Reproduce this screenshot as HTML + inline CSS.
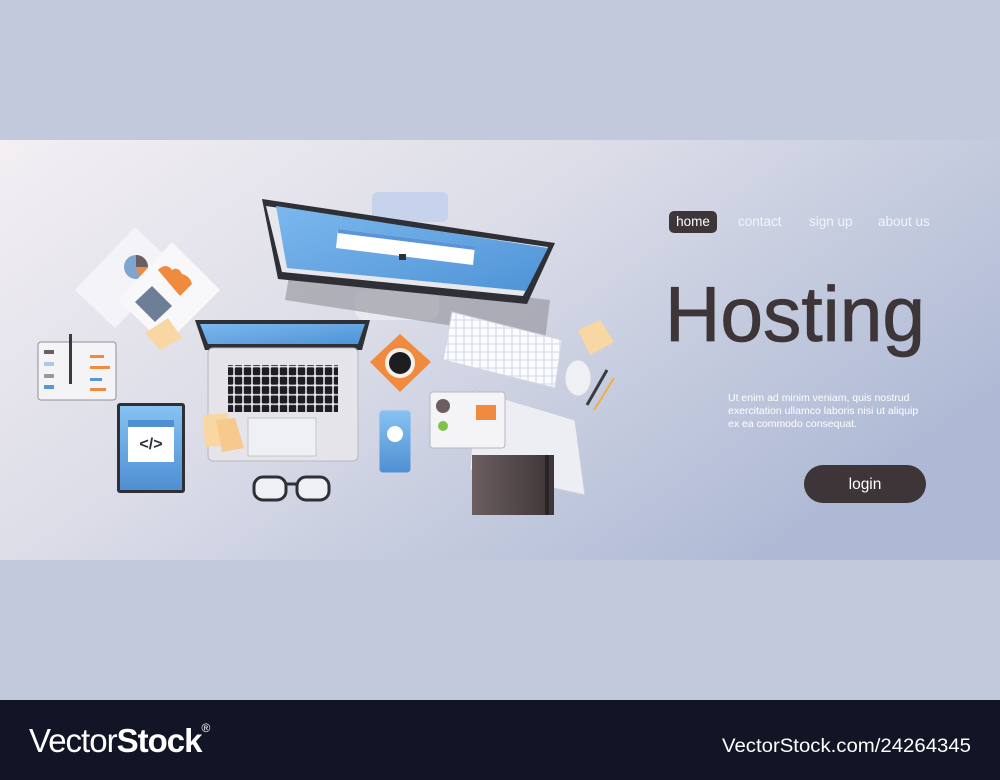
<!DOCTYPE html>
<html><head><meta charset="utf-8"><style>
html,body{margin:0;padding:0;width:1000px;height:780px;overflow:hidden;background:#c2c9dc;font-family:"Liberation Sans",sans-serif}
</style></head><body>
<svg width="1000" height="780" viewBox="0 0 1000 780" xmlns="http://www.w3.org/2000/svg" font-family="Liberation Sans, sans-serif">
<defs>
<linearGradient id="bg" x1="0" y1="0" x2="1" y2="0.6">
<stop offset="0" stop-color="#f3eff3"/><stop offset="0.45" stop-color="#dcdde8"/><stop offset="1" stop-color="#aebad5"/>
</linearGradient>
<linearGradient id="scr" x1="0" y1="0" x2="1" y2="1"><stop offset="0" stop-color="#7cb8ee"/><stop offset="1" stop-color="#4f93d6"/></linearGradient>
<linearGradient id="tab" x1="0" y1="0" x2="0" y2="1"><stop offset="0" stop-color="#86c2f2"/><stop offset="1" stop-color="#4f8fd2"/></linearGradient>
<linearGradient id="fold" x1="0" y1="0" x2="1" y2="0"><stop offset="0" stop-color="#6b5e60"/><stop offset="1" stop-color="#3e3537"/></linearGradient>
<pattern id="keys" width="9" height="9.4" patternUnits="userSpaceOnUse"><rect x="0" y="0" width="9" height="9.4" fill="#e4e4ea"/><rect x="0.8" y="0.8" width="7.4" height="7.8" rx="1" fill="#1d1d22"/></pattern>
<pattern id="wkeys" width="8" height="8" patternUnits="userSpaceOnUse"><rect width="8" height="8" fill="#dfe3ee"/><rect x="0.8" y="0.8" width="6.4" height="6.4" rx="1" fill="#fbfcff"/></pattern>
</defs>
<rect x="0" y="0" width="1000" height="780" fill="#c2c9dc"/>
<rect x="0" y="140" width="1000" height="420" fill="url(#bg)"/>

<rect x="372" y="192" width="76" height="30" rx="6" fill="#c7d3ec"/>
<rect x="355" y="290" width="84" height="30" rx="10" fill="#e9eaf0"/>
<polygon points="290,270 550,300 545,340 285,300" fill="#8f9098" opacity="0.6"/>
<polygon points="262,199 555,243 527,304 278,279" fill="#2e3036"/>
<polygon points="266,206 548,247 523,296 282,272" fill="#e6e8ee"/>
<polygon points="276,206 548,248 526,291 287,268" fill="url(#scr)"/>
<polygon points="338,229 475,246 473,265 336,248" fill="#fff"/>
<polygon points="338,229 475,246 475,250 338,233" fill="#5a95d6"/>
<rect x="399" y="254" width="7" height="6" fill="#2e3036"/>

<polygon points="75,290 135,227 175,265 115,328" fill="#f4f4f8"/>
<circle cx="136" cy="267" r="12" fill="#7fa4cf"/>
<path d="M136,267 L136,255 A12,12 0 0 1 148,267 Z" fill="#6b5e60"/>
<path d="M136,267 L148,267 A12,12 0 0 1 140,278 Z" fill="#f08a3e"/>
<polygon points="118,300 172,242 220,290 165,345" fill="#f8f8fb"/>
<path d="M158,270 q8,-8 14,0 q6,-4 10,4 q8,2 10,10 l-12,12 z" fill="#f08a3e"/>
<polygon points="135,302 152,286 172,306 155,322" fill="#6c7f97"/>
<polygon points="145,333 168,318 182,338 160,350" fill="#f9d7a3"/>

<rect x="38" y="342" width="78" height="58" rx="3" fill="#f4f4f6" stroke="#8e8e96"/>
<rect x="44" y="350" width="10" height="4" fill="#6b5e60"/><rect x="44" y="362" width="10" height="4" fill="#a9c9ee"/>
<rect x="44" y="374" width="10" height="4" fill="#9a9a9a"/><rect x="44" y="385" width="10" height="4" fill="#5a95d6"/>
<rect x="69" y="334" width="3" height="50" fill="#3a3a40"/>
<rect x="90" y="355" width="14" height="3" fill="#f08a3e"/><rect x="90" y="366" width="20" height="3" fill="#f08a3e"/><rect x="90" y="378" width="12" height="3" fill="#5a95d6"/><rect x="90" y="388" width="16" height="3" fill="#f08a3e"/>

<rect x="117" y="403" width="68" height="90" rx="3" fill="#2e3036"/>
<rect x="120" y="406" width="62" height="84" fill="url(#tab)"/>
<rect x="128" y="420" width="46" height="42" fill="#fff"/>
<rect x="128" y="420" width="46" height="7" fill="#4f8fd2"/>
<text x="151" y="449" font-size="16" text-anchor="middle" font-weight="bold" fill="#2e3036">&lt;/&gt;</text>

<polygon points="195,320 370,320 362,350 205,350" fill="#2e3036"/>
<polygon points="200,324 365,324 358,344 208,344" fill="url(#scr)"/>
<rect x="208" y="348" width="150" height="113" rx="5" fill="#e4e4ea" stroke="#b7b8c0"/>
<rect x="228" y="365" width="110" height="47" fill="url(#keys)"/>
<rect x="248" y="418" width="68" height="38" fill="#eef0f4" stroke="#c5c6cc"/>
<polygon points="203,415 228,413 230,445 205,447" fill="#f9d7a3"/>
<polygon points="216,420 235,418 244,448 222,452" fill="#f6c98d"/>

<polygon points="400,334 431,362 400,392 370,362" fill="#f08a3e"/>
<circle cx="400" cy="363" r="15" fill="#f5f0e8"/><circle cx="400" cy="363" r="11" fill="#1d1d22"/>

<polygon points="452,312 562,340 555,388 443,360" fill="url(#wkeys)" stroke="#d0d4e0"/>
<polygon points="578,330 600,320 614,342 590,355" fill="#f9d7a3"/>
<ellipse cx="578" cy="378" rx="13" ry="18" fill="#eef0f4" stroke="#cfd2da"/>
<line x1="587" y1="405" x2="607" y2="370" stroke="#3a3a40" stroke-width="3"/>
<line x1="594" y1="410" x2="614" y2="378" stroke="#f0b040" stroke-width="2"/>

<rect x="379" y="410" width="32" height="63" rx="4" fill="url(#tab)" stroke="#c6d3ea"/>
<circle cx="395" cy="434" r="8" fill="#fff"/>

<rect x="254" y="477" width="32" height="23" rx="9" fill="#eef0f4" stroke="#2e3036" stroke-width="3"/>
<rect x="297" y="477" width="32" height="23" rx="9" fill="#eef0f4" stroke="#2e3036" stroke-width="3"/>
<line x1="286" y1="484" x2="297" y2="484" stroke="#2e3036" stroke-width="3"/>

<polygon points="475,390 575,420 585,495 470,470" fill="#eceef3" stroke="#c9ccd6"/>
<rect x="472" y="455" width="82" height="60" fill="url(#fold)"/>
<rect x="545" y="455" width="4" height="60" fill="#2a2426"/>
<rect x="430" y="392" width="75" height="56" rx="3" fill="#f4f4f7" stroke="#b6b7be"/>
<circle cx="443" cy="406" r="7" fill="#6b5e60"/><circle cx="443" cy="426" r="5" fill="#7fc24a"/>
<rect x="476" y="405" width="20" height="15" fill="#f08a3e"/>

<rect x="669" y="211" width="48" height="22" rx="5" fill="#3d3537"/>
<text x="693" y="226" font-size="13.5" fill="#fff" text-anchor="middle">home</text>
<text x="738" y="226" font-size="13.5" fill="#f3f4f8">contact</text>
<text x="809" y="226" font-size="13.5" fill="#f3f4f8">sign up</text>
<text x="878" y="226" font-size="13.5" fill="#f3f4f8">about us</text>
<text x="665" y="341" font-size="78" fill="#3d3537" stroke="#3d3537" stroke-width="0.8" textLength="260" lengthAdjust="spacingAndGlyphs">Hosting</text>
<text font-size="10.5" fill="#ffffff">
<tspan x="728" y="401">Ut enim ad minim veniam, quis nostrud</tspan>
<tspan x="728" y="414">exercitation ullamco laboris nisi ut aliquip</tspan>
<tspan x="728" y="427">ex ea commodo consequat.</tspan>
</text>
<rect x="804" y="465" width="122" height="38" rx="19" fill="#3d3537"/>
<text x="865" y="489" font-size="15.5" fill="#fff" text-anchor="middle">login</text>

<rect x="0" y="700" width="1000" height="80" fill="#121526"/>
<text x="29" y="752" font-size="33" fill="#fff" letter-spacing="-1"><tspan>Vector</tspan><tspan font-weight="bold">Stock</tspan><tspan font-size="12" dy="-20">®</tspan></text>
<text x="722" y="752" font-size="19" fill="#fff" textLength="249" lengthAdjust="spacingAndGlyphs">VectorStock.com/24264345</text>
</svg>
</body></html>
